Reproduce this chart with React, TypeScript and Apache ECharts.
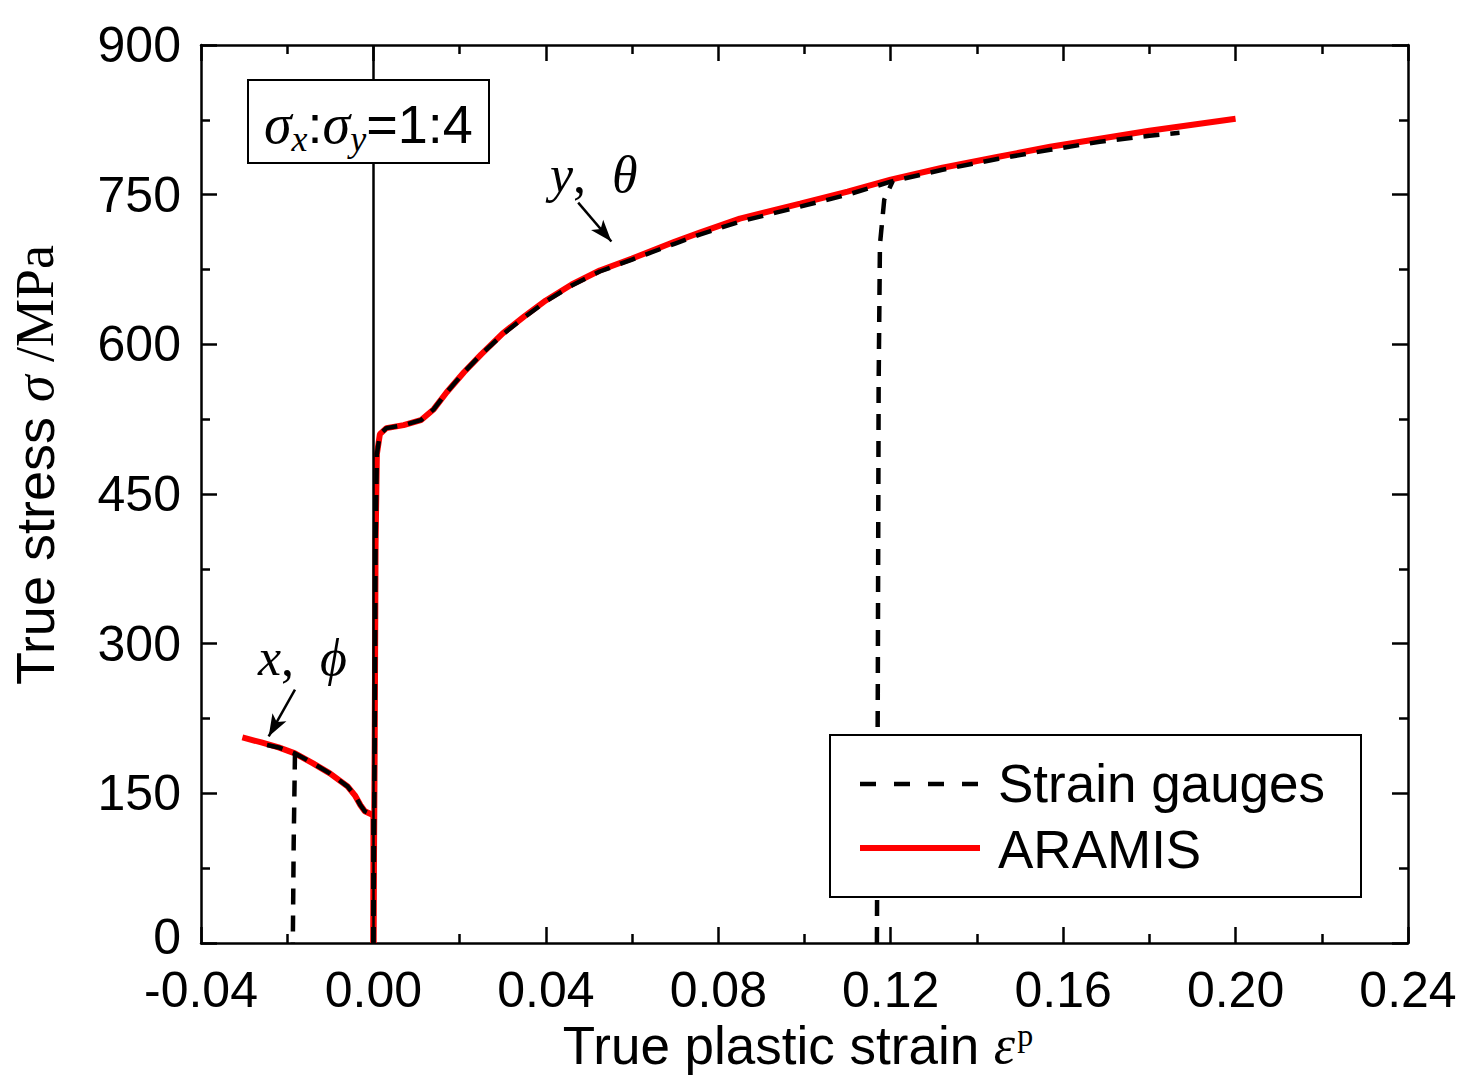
import React, { useEffect, useRef } from "react";
import * as echarts from "echarts";

const xTicks = [-0.04, 0.0, 0.04, 0.08, 0.12, 0.16, 0.2, 0.24];
const yTicks = [0, 150, 300, 450, 600, 750, 900];

const aramisY: number[][] = [
  [0, 0], [0.0003, 200], [0.0005, 400], [0.0008, 490], [0.0015, 510], [0.003, 516],
  [0.007, 519], [0.011, 524], [0.014, 535], [0.017, 552], [0.021, 572], [0.025, 590],
  [0.03, 611], [0.035, 628], [0.04, 644], [0.046, 660], [0.0525, 674], [0.06, 686],
  [0.07, 703], [0.0757, 712], [0.085, 726], [0.099, 741], [0.11, 753], [0.12, 765],
  [0.132, 777], [0.145, 788], [0.157, 798], [0.1685, 806], [0.18, 814], [0.19, 820], [0.2, 826],
];
const aramisX: number[][] = [
  [0, 0], [0, 128], [-0.001, 130], [-0.002, 132], [-0.003, 138], [-0.0043, 148],
  [-0.006, 157], [-0.0101, 170], [-0.014, 180], [-0.0182, 190], [-0.022, 196],
  [-0.026, 201], [-0.0304, 206],
];
const gaugeY: number[][] = [
  [0, 0], [0.0003, 200], [0.0005, 400], [0.0008, 490], [0.0015, 510], [0.003, 516],
  [0.007, 519], [0.011, 524], [0.014, 535], [0.017, 552], [0.021, 572], [0.025, 590],
  [0.03, 610], [0.035, 627], [0.04, 643], [0.046, 659], [0.0525, 673], [0.06, 685],
  [0.07, 701], [0.0757, 710], [0.085, 723], [0.099, 738], [0.11, 750], [0.12, 763],
  [0.132, 775], [0.145, 786], [0.157, 795], [0.1685, 803], [0.18, 809], [0.187, 812],
];
const gaugeYDrop: number[][] = [
  [0.1168, 0], [0.117, 250], [0.1172, 560], [0.1175, 700], [0.1185, 745], [0.1205, 764],
];
const gaugeX: number[][] = [
  [0, 0], [0, 128], [-0.001, 130], [-0.002, 132], [-0.003, 138], [-0.0043, 148],
  [-0.006, 157], [-0.0101, 170], [-0.014, 180], [-0.0182, 190], [-0.022, 196], [-0.0265, 200],
];
const gaugeXDrop: number[][] = [
  [-0.0182, 190], [-0.0185, 100], [-0.0187, 0],
];

const ARIAL = "'Liberation Sans', Arial, sans-serif";
const TIMES = "'Liberation Serif', 'Times New Roman', serif";

export default function App() {
  const ref = useRef<HTMLDivElement>(null);
  useEffect(() => {
    document.body.style.margin = "0";
    const chart = echarts.init(ref.current!, null, { renderer: "svg" });
    const L = 201, R = 1408, T = 45, B = 943;
    const axisCommon = {
      type: "value" as const,
      axisLine: { show: true, onZero: false, lineStyle: { color: "#000", width: 2.5 } },
      splitLine: { show: false },
    };
    const tick = { inside: true, length: 16, lineStyle: { width: 2.5, color: "#000" } };
    const minor = { show: true, splitNumber: 2, length: 9, lineStyle: { width: 2.5, color: "#000" } };
    const dashStyle = { color: "#000", width: 4.5, type: [16, 11] as any };
    const redStyle = { color: "#ff0000", width: 6 };
    const option: any = {
      animation: false,
      backgroundColor: "#fff",
      grid: { left: L, right: 1465 - R, top: T, bottom: 1079 - B, containLabel: false },
      xAxis: [
        {
          ...axisCommon,
          min: -0.04, max: 0.24, interval: 0.04,
          axisTick: tick, minorTick: minor,
          axisLabel: {
            margin: 28, fontSize: 50, lineHeight: 38, color: "#000", fontFamily: ARIAL,
            formatter: (v: number) => v.toFixed(2),
          },
        },
        {
          ...axisCommon,
          position: "top",
          min: -0.04, max: 0.24, interval: 0.04,
          axisTick: tick, minorTick: minor,
          axisLabel: { show: false },
        },
      ],
      yAxis: [
        {
          ...axisCommon,
          min: 0, max: 900, interval: 150,
          axisTick: tick, minorTick: minor,
          axisLabel: {
            margin: 20, fontSize: 50, lineHeight: 36, color: "#000", fontFamily: ARIAL,
            formatter: (v: number) => (v === 0 ? "{z|0}" : String(v)),
            rich: { z: { fontSize: 50, lineHeight: 36, fontFamily: ARIAL, color: "#000", padding: [0, 0, 12, 0] } },
          },
        },
        {
          ...axisCommon,
          position: "right",
          min: 0, max: 900, interval: 150,
          axisTick: tick, minorTick: minor,
          axisLabel: { show: false },
        },
      ],
      series: [
        {
          type: "line", name: "zero", data: [], silent: true,
          markLine: {
            silent: true, symbol: ["none", "none"], label: { show: false },
            lineStyle: { color: "#000", width: 2.5, type: "solid" },
            data: [{ xAxis: 0 }],
          },
        },
        { type: "line", name: "ARAMIS", data: aramisX, showSymbol: false, lineStyle: redStyle },
        { type: "line", name: "ARAMIS", data: aramisY, showSymbol: false, lineStyle: redStyle },
        { type: "line", name: "Strain gauges", data: gaugeX, showSymbol: false, lineStyle: dashStyle },
        { type: "line", name: "Strain gauges", data: gaugeXDrop, showSymbol: false, lineStyle: dashStyle },
        { type: "line", name: "Strain gauges", data: gaugeY, showSymbol: false, lineStyle: dashStyle },
        { type: "line", name: "Strain gauges", data: gaugeYDrop, showSymbol: false, lineStyle: dashStyle },
        {
          type: "line", name: "arrows", data: [], silent: true,
          markLine: {
            silent: true, symbol: ["none", "arrow"], symbolSize: [12, 22], label: { show: false },
            lineStyle: { color: "#000", width: 2.5, type: "solid" },
            data: [
              [{ coord: [-0.0182, 254] }, { coord: [-0.0243, 207] }],
              [{ coord: [0.0475, 742] }, { coord: [0.0552, 703] }],
            ],
          },
        },
      ],
      graphic: [
        {
          type: "rect", shape: { x: 248, y: 80, width: 241, height: 83 },
          style: { fill: "#fff", stroke: "#000", lineWidth: 2 }, z: 10,
        },
        {
          type: "text", x: 264, y: 124, z: 11,
          style: {
            text: "{s|σ}{sub|x}{n|:}{s|σ}{sub|y}{n|=1:4}",
            verticalAlign: "middle",
            rich: {
              s: { fontFamily: TIMES, fontStyle: "italic", fontSize: 56, fill: "#000" },
              sub: { fontFamily: TIMES, fontStyle: "italic", fontSize: 36, fill: "#000", padding: [30, 0, 0, 0] },
              n: { fontFamily: ARIAL, fontSize: 54, fill: "#000" },
            },
          },
        },
        {
          type: "text", x: 258, y: 657, z: 11,
          style: {
            text: "{i|x}{n|,  }{i|ϕ}", verticalAlign: "middle",
            rich: {
              i: { fontFamily: TIMES, fontStyle: "italic", fontSize: 52, fill: "#000" },
              n: { fontFamily: TIMES, fontSize: 52, fill: "#000" },
            },
          },
        },
        {
          type: "text", x: 550, y: 174, z: 11,
          style: {
            text: "{i|y}{n|,  }{i|θ}", verticalAlign: "middle",
            rich: {
              i: { fontFamily: TIMES, fontStyle: "italic", fontSize: 52, fill: "#000" },
              n: { fontFamily: TIMES, fontSize: 52, fill: "#000" },
            },
          },
        },
        {
          type: "rect", shape: { x: 830, y: 735, width: 531, height: 162 },
          style: { fill: "#fff", stroke: "#000", lineWidth: 2 }, z: 10,
        },
        {
          type: "line", shape: { x1: 860, y1: 784, x2: 980, y2: 784 }, z: 11,
          style: { stroke: "#000", lineWidth: 4.5, lineDash: [16, 18] },
        },
        {
          type: "line", shape: { x1: 860, y1: 848, x2: 980, y2: 848 }, z: 11,
          style: { stroke: "#ff0000", lineWidth: 6 },
        },
        {
          type: "text", x: 998, y: 783, z: 11,
          style: { text: "Strain gauges", fontFamily: ARIAL, fontSize: 53, fill: "#000", verticalAlign: "middle" },
        },
        {
          type: "text", x: 998, y: 849, z: 11,
          style: { text: "ARAMIS", fontFamily: ARIAL, fontSize: 53, fill: "#000", verticalAlign: "middle" },
        },
        {
          type: "text", x: 35, y: 465, rotation: Math.PI / 2, z: 11,
          style: {
            text: "{n|True stress }{i|σ}{t| /MPa}", align: "center", verticalAlign: "middle",
            rich: {
              n: { fontFamily: ARIAL, fontSize: 54, fill: "#000" },
              i: { fontFamily: TIMES, fontStyle: "italic", fontSize: 54, fill: "#000" },
              t: { fontFamily: TIMES, fontSize: 54, fill: "#000" },
            },
          },
        },
        {
          type: "text", x: 798, y: 1045, z: 11,
          style: {
            text: "{n|True plastic strain }{i|ε}{p|p}", align: "center", verticalAlign: "middle",
            rich: {
              n: { fontFamily: ARIAL, fontSize: 53, lineHeight: 48, fill: "#000" },
              i: { fontFamily: TIMES, fontStyle: "italic", fontSize: 54, lineHeight: 48, fill: "#000" },
              p: { fontFamily: TIMES, fontSize: 32, lineHeight: 28, fill: "#000", padding: [0, 0, 20, 2] },
            },
          },
        },
      ],
    };
    chart.setOption(option);
    return () => chart.dispose();
  }, []);
  return <div ref={ref} style={{ width: 1465, height: 1079 }} />;
}
